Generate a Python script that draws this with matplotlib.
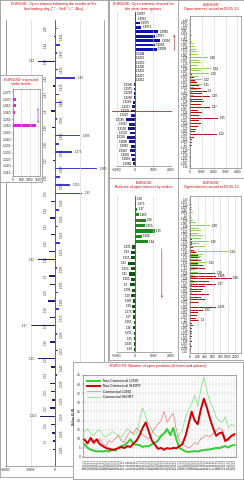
# plot.py - EURUSD open interest dashboard (options + COT)
import matplotlib
matplotlib.use("Agg")
import matplotlib.pyplot as plt

plt.rcParams['font.family'] = ['Liberation Sans', 'DejaVu Sans']

# ================= DATA =================
# big panel: open interest after the last trading day (- sell, + buy)
BIG_STRIKES = [1.45, 1.445, 1.44, 1.435, 1.43, 1.425, 1.42, 1.415, 1.41, 1.405,
               1.40, 1.395, 1.39, 1.385, 1.38, 1.375, 1.37, 1.365, 1.36, 1.355,
               1.35, 1.345, 1.34, 1.335, 1.33, 1.325, 1.32, 1.315, 1.31, 1.305,
               1.30, 1.295, 1.29, 1.285, 1.28, 1.275, 1.27, 1.265, 1.26, 1.255,
               1.25, 1.245, 1.24, 1.235, 1.23, 1.225, 1.22, 1.215, 1.21, 1.205,
               1.20, 1.195]
BIG_OI = [80, -60, 200, 90, -700, 120, 800, -100, 150, 300,
          -150, 100, -120, 1000, 150, 700, -100, 1700, 200, 600,
          1100, -150, 150, -200, 120, -180, 200, -250, -700, 100,
          -250, -200, 120, -300, 150, -200, -1000, 100, -200, 120,
          -700, -150, 100, -200, -150, -120, -200, -600, -150, -120,
          -100, -80]

# inset: expected strike levels
INSET_STRIKES = [1.375, 1.37, 1.365, 1.36, 1.355, 1.35, 1.345, 1.34, 1.335,
                 1.33, 1.325, 1.32, 1.315]
INSET_OI = [0, 150, 200, 120, 0, 1350, 0, 0, 0, 0, 0, 0, 0]

# top middle: open interest revised for short-term options
P2_LABELS = ["1.3997", "1.3991", "1.3975", "1.3973", "1.3960", "1.3957",
             "1.3950", "1.3934", "1.3909", "1.3448", "1.3470", "1.3450",
             "1.3445", "1.3432", "1.3427", "1.3412",
             "1.3390", "1.3375", "1.3299", "1.3290", "1.3248", "1.3227",
             "1.3202", "1.3200", "1.3185", "1.3167", "1.3150", "1.3125",
             "1.3110", "1.3090", "1.3065", "1.3047", "1.3020", "1.3000",
             "1.2980"]
P2_OI = [30, 80, 250, 350, 1300, 1100, 1400, 1100, 1200, 0, 0, 0, 0, 0, 0, 0,
         -30, -50, -80, -60, -100, -150, -200, -250, -500, -350, -400, -300,
         -450, -350, -250, -300, -200, -150, -100]
P2_PRICE = "1.3202"

# top right: open interest, actual
P3_STRIKES = [1.43, 1.425, 1.42, 1.415, 1.41, 1.405, 1.40, 1.395, 1.39, 1.385,
              1.38, 1.375, 1.37, 1.365, 1.36, 1.355, 1.35, 1.345, 1.34, 1.335,
              1.33, 1.325, 1.32, 1.315, 1.31, 1.305, 1.30, 1.295, 1.29, 1.285,
              1.28, 1.275, 1.27, 1.265, 1.26, 1.255, 1.25, 1.245, 1.24, 1.235,
              1.23, 1.225, 1.22, 1.215, 1.21, 1.205, 1.20, 1.195, 1.19, 1.185,
              1.18, 1.175, 1.17, 1.165, 1.16]
P3_CALLS = [50, 0, 80, 0, 60, 100, 150, 100, 200, 300,
            400, 500, 600, 700, 1500, 800, 900, 700, 1800, 900,
            1600, 700, 1000, 500, 1000, 300, 600, 200, 300, 100,
            200, 50, 100, 40, 30, 20, 30, 0, 20, 0,
            10, 0, 0, 0, 0, 0, 0, 0, 0, 0, 0, 0, 0, 0, 0]
P3_PUTS = [0, 0, 0, 0, 0, 0, 0, 0, 0, 0,
           0, 0, 0, 20, 30, 40, 50, 60, 80, 100,
           200, 300, 400, 600, 800, 900, 1400, 1000, 1700, 1100,
           1200, 900, 1700, 700, 1000, 800, 2400, 800, 900, 700,
           500, 400, 2300, 300, 200, 150, 200, 100, 80, 60,
           100, 50, 80, 40, 60]
P3_MARKED = [1.36, 1.34, 1.33, 1.32, 1.31, 1.30, 1.29, 1.27, 1.25, 1.22]

# middle: balance of open interest by strikes
P4_LABELS = ["1.38", "1.375", "1.37", "1.365", "1.36", "1.355", "1.35", "1.345",
             "1.34", "1.335", "1.33", "1.325", "1.32", "1.315", "1.31", "1.305",
             "1.3", "1.295", "1.29", "1.285", "1.28", "1.275", "1.27", "1.265",
             "1.26", "1.255", "1.25", "1.245", "1.24"]
P4_OI = [20, 60, 120, 200, 600, 550, 1100, 380, 700,
         -150, -250, -200, -400, -250, -350, -200, -300, -150, -200,
         -100, -150, -100, -120, -80, -100, -60, -80, -50, -40]

# middle right: open interest, actual
P5_STRIKES = [1.43, 1.425, 1.42, 1.415, 1.41, 1.405, 1.40, 1.395, 1.39, 1.385,
              1.38, 1.375, 1.37, 1.365, 1.36, 1.355, 1.35, 1.345, 1.34, 1.335,
              1.33, 1.325, 1.32, 1.315, 1.31, 1.305, 1.30, 1.295, 1.29, 1.285,
              1.28, 1.275, 1.27, 1.265, 1.26, 1.255, 1.25, 1.245, 1.24, 1.235,
              1.23, 1.225, 1.22, 1.215, 1.21, 1.205, 1.20, 1.195, 1.19, 1.185,
              1.18, 1.175, 1.17, 1.165, 1.16, 1.155, 1.15, 1.145, 1.14]
P5_CALLS = [20, 30, 50, 40, 60, 80, 100, 60, 90, 150,
            540, 250, 300, 200, 350, 300, 500, 250, 400, 300,
            1020, 350, 300, 250, 450, 200, 250, 150, 200, 100,
            150, 80, 100, 50, 40, 30, 40, 20, 30, 10,
            20, 10, 10, 0, 0, 0, 0, 0, 0, 0,
            0, 0, 0, 0, 0, 0, 0, 0, 0]
P5_PUTS = [0, 0, 0, 0, 0, 0, 0, 0, 0, 0,
           0, 0, 20, 30, 30, 40, 50, 60, 80, 100,
           150, 200, 250, 300, 200, 350, 400, 450, 660, 700,
           1100, 500, 700, 400, 350, 300, 500, 300, 400, 250,
           450, 700, 340, 200, 180, 150, 250, 60, 80, 50,
           60, 40, 50, 30, 40, 30, 40, 20, 30]
P5_MARKED = [1.38, 1.35, 1.33, 1.31, 1.29, 1.285, 1.28, 1.27, 1.225, 1.22, 1.20]

# bottom: EURO FX open positions (COT), billion EUR
COT_DATES = ["03.05.11", "17.05.11", "31.05.11", "14.06.11", "28.06.11", "12.07.11",
             "26.07.11", "09.08.11", "23.08.11", "06.09.11", "20.09.11", "04.10.11",
             "18.10.11", "01.11.11", "15.11.11", "29.11.11", "13.12.11", "27.12.11",
             "10.01.12", "24.01.12", "07.02.12", "21.02.12", "06.03.12", "20.03.12",
             "03.04.12", "17.04.12", "01.05.12", "15.05.12", "29.05.12", "12.06.12",
             "26.06.12", "10.07.12", "24.07.12", "07.08.12", "21.08.12", "04.09.12",
             "18.09.12", "02.10.12", "16.10.12", "30.10.12", "13.11.12", "27.11.12",
             "11.12.12", "25.12.12", "08.01.13", "22.01.13", "05.02.13", "19.02.13",
             "05.03.13", "19.03.13"]
NC_LONG = [7, 5, 4, 3.5, 3, 3.2, 3, 3.5, 3, 4, 3.5, 5, 5.9, 6.5, 7.8, 9.7, 7,
           6.8, 6.5, 5.5, 6, 5.9, 7, 7.8, 9, 11.6, 13, 15.4, 12, 16, 9.7, 5, 4,
           3, 2.8, 3, 3.2, 3, 3.5, 3.8, 4, 4.2, 4.5, 5, 4.8, 5.5, 6, 5.2, 6.3, 6.5]
NC_SHORT = [9.5, 7.5, 10.5, 8, 9.7, 7, 5.9, 5, 4.5, 4, 4.2, 4.8, 5.5, 4.9, 6,
            5.5, 7.5, 9, 12, 16, 19, 14, 9, 6.8, 4.5, 5, 4, 4.9, 4.5, 5, 4.8,
            5.9, 7, 11.6, 18, 24.9, 20, 18, 26, 32, 27, 21, 16, 11.6, 13, 13.5,
            8.7, 10, 11.6, 12.5]
COM_LONG = [6, 8, 9, 7, 8, 10, 7, 6, 9, 8, 10, 12, 9, 8, 12, 14, 13, 16, 14,
            12, 11, 10, 13, 16, 18, 20, 25, 19, 22, 24, 15, 9, 7, 6, 5, 6, 8, 7,
            10, 11, 12, 11, 13, 14, 16, 15, 10, 9, 12, 11]
COM_SHORT = [14, 15.5, 13, 12, 14, 15, 12, 11, 12, 14, 13, 12, 11, 13, 15.4, 14,
             12, 13, 20, 27, 22, 18, 15, 12, 11, 12, 13, 14, 13, 12, 11, 12, 15,
             22, 26, 29, 34, 28, 37, 44, 36, 30, 27, 22, 20, 19, 22, 16, 18, 17]

# ================= STYLE =================
W, H = 244, 480
RED = '#cc0000'
GRID = '#cfcfcf'
FS = 2.4

fig = plt.figure(figsize=(W / 100, H / 100), dpi=100)


def px_axes(x0, y0, x1, y1, z=1):
    """axes placed by pixel box (top-left origin)"""
    return fig.add_axes([x0 / W, 1 - y1 / H, (x1 - x0) / W, (y1 - y0) / H], zorder=z)


def frame(x0, y0, x1, y1, z, title):
    a = px_axes(x0, y0, x1, y1, z)
    a.set_xticks([])
    a.set_yticks([])
    a.set_facecolor('white')
    for s in a.spines.values():
        s.set_color('#9a9a9a')
        s.set_linewidth(0.6)
    a.text(0.5, 1 - 2.5 / (y1 - y0), title, transform=a.transAxes, ha='center',
           va='top', color=RED, fontsize=2.7, linespacing=1.1)
    return a


def style(ax):
    ax.tick_params(labelsize=FS, length=1, width=0.3, pad=0.6, colors='#222222')
    for s in ax.spines.values():
        s.set_linewidth(0.4)
        s.set_color('#666666')
    ax.set_facecolor('white')


def fmt(v):
    return f"{v:g}"


# ================= BIG PANEL =================
frame(0, 0, 108, 477, 1, 'EURUSD:  Open interest following the results of the\n'
      'last trading day ("-" - Sell, "+" - Buy)')
ax = px_axes(6, 20, 104, 466, 2)
style(ax)
cols = ['#3c3cc8' if v > 0 else '#1c1c70' for v in BIG_OI]
ax.barh(BIG_STRIKES, BIG_OI, height=0.0009, color=cols)
ax.axvline(0, color='#333333', lw=0.5)
for i, (s, v) in enumerate(zip(BIG_STRIKES, BIG_OI)):
    ax.text(-380 if i % 2 == 0 else 260, s, fmt(s), rotation=90, fontsize=2.2,
            ha='center', va='center', color='#333333')
    if abs(v) >= 600:
        ax.text(v + (120 if v > 0 else -120), s, fmt(s), fontsize=2.2,
                ha='left' if v > 0 else 'right', va='center', color='#333333')
ax.set_xlim(-2000, 2000)
ax.set_ylim(1.185, 1.455)
ax.set_yticks([])
ax.set_xticks([-2000, -1000, 0, 1000, 2000])
ax.grid(axis='x', color=GRID, lw=0.4)
ax.spines['top'].set_visible(False)

# ================= INSET =================
frame(0, 75, 42, 182, 5, 'EUR/USD: expected\nstrike levels')
ax = px_axes(13, 89, 40, 176, 6)
style(ax)
ax.barh(INSET_STRIKES, INSET_OI, height=0.0022, color='#dd22dd')
ax.annotate('', xy=(1480, INSET_STRIKES[2]), xytext=(1480, INSET_STRIKES[5]),
            arrowprops=dict(arrowstyle='<->', color='#dd22dd', lw=0.4,
                            mutation_scale=2), annotation_clip=False)
ax.set_ylim(1.3125, 1.3775)
ax.set_yticks(INSET_STRIKES)
ax.set_yticklabels([f"{s:.3f}" for s in INSET_STRIKES])
ax.set_xlim(0, 1600)
ax.set_xticks([0, 500, 1000, 1500])
ax.grid(axis='x', color=GRID, lw=0.4)


def bal_panel(box, labels, values, pos_col, neg_col):
    ax = px_axes(*box, 2)
    style(ax)
    n = len(labels)
    rows = list(range(n))
    cols = [pos_col if v >= 0 else neg_col for v in values]
    ax.barh(rows, values, height=0.6, color=cols)
    for r, lab, v in zip(rows, labels, values):
        if v >= 0:
            ax.text(v + 70, r, lab, fontsize=2.2, ha='left', va='center')
        else:
            ax.text(v - 70, r, lab, fontsize=2.2, ha='right', va='center')
    ax.axvline(0, color='#333333', lw=0.5)
    ax.set_ylim(n - 0.5, -0.5)
    ax.set_yticks([])
    ax.set_xlim(-1000, 2000)
    ax.set_xticks([-1000, 0, 1000, 2000])
    ax.grid(axis='x', color=GRID, lw=0.4)
    ax.spines['left'].set_visible(False)
    ax.spines['top'].set_visible(False)
    ax.spines['right'].set_visible(False)
    return ax


def oi_panel(box, strikes, calls, puts, marked, xmax, xticks):
    ax = px_axes(*box, 2)
    style(ax)
    ys_c = [s + 0.0011 for s in strikes]
    ys_p = [s - 0.0011 for s in strikes]
    ax.barh(ys_c, calls, height=0.0018, color='#8fd14f')
    ax.barh(ys_p, puts, height=0.0018, color='#b01010')
    for s, c, p in zip(strikes, calls, puts):
        if s in marked:
            ax.text(max(c, p) + xmax * 0.03, s, fmt(s), fontsize=2.2, va='center')
    ax.set_ylim(strikes[-1] - 0.003, strikes[0] + 0.0075)
    ax.set_yticks(strikes)
    ax.set_yticklabels([fmt(s) for s in strikes], fontsize=2)
    ax.set_xlim(0, xmax)
    ax.set_xticks(xticks)
    ax.grid(axis='x', color=GRID, lw=0.4)
    return ax


# ================= TOP MIDDLE =================
frame(109, 0, 178, 178, 1, 'EUR/USD: Open interest, revised for\nthe short-term options')
ax = bal_panel((117, 12, 171, 166), P2_LABELS, P2_OI, '#1010b0', '#1a1a80')
ax.axhline(P2_LABELS.index(P2_PRICE), color='#990000', lw=0.5, xmin=-0.1, clip_on=False)
ax.annotate('', xy=(1.06, 0.87), xytext=(1.06, 0.73), xycoords='axes fraction',
            arrowprops=dict(arrowstyle='->', color='#aa2222', lw=0.4, mutation_scale=2.5),
            annotation_clip=False)

# ================= TOP RIGHT =================
frame(178, 0, 244, 178, 1, 'EUR/USD\nOpen interest, actual at 03.05.13')
oi_panel((190, 16, 241, 168), P3_STRIKES, P3_CALLS, P3_PUTS, P3_MARKED,
         4300, [0, 1000, 2000, 3000, 4000])

# ================= MIDDLE =================
frame(109, 178, 178, 360, 1, 'EUR/USD\nBalance of open interest by strikes')
ax = bal_panel((117, 196, 171, 352), P4_LABELS, P4_OI, '#1e8a1e', '#0b5a0b')
ax.annotate('', xy=(0.83, 0.33), xytext=(0.83, 0.68), xycoords='axes fraction',
            arrowprops=dict(arrowstyle='->', color='#aa2222', lw=0.4, mutation_scale=2.5),
            annotation_clip=False)

# ================= MIDDLE RIGHT =================
frame(178, 178, 244, 360, 1, 'EUR/USD\nOpen interest, actual at 03.05.13')
oi_panel((190, 196, 241, 353), P5_STRIKES, P5_CALLS, P5_PUTS, P5_MARKED,
         1350, [0, 200, 400, 600, 800, 1000, 1200])

# ================= BOTTOM (COT) =================
frame(73, 362, 243, 479, 5, 'EURO FX: Number of open positions (futures and options)')
ax = px_axes(83, 375, 236, 457, 6)
style(ax)
x = list(range(len(COT_DATES)))
ax.plot(x, COM_SHORT, color='#77dd77', lw=0.5, label='Commercial SHORT', zorder=2)
ax.plot(x, COM_LONG, color='#e07a7a', lw=0.5, label='Commercial LONG', zorder=2)
ax.plot(x, NC_LONG, color='#33cc33', lw=1.4, label='Non-Commercial LONG', zorder=3)
ax.plot(x, NC_SHORT, color='#cc0000', lw=1.4, label='Non-Commercial SHORT', zorder=3)
h, l = ax.get_legend_handles_labels()
order = [2, 3, 1, 0]
ax.legend([h[i] for i in order], [l[i] for i in order], loc='upper left',
          fontsize=2.4, frameon=False, handlelength=4, borderaxespad=0.8,
          labelspacing=0.4)
ax.set_xlim(-0.5, len(x) - 0.5)
ax.set_ylim(0, 45)
ax.set_yticks(range(0, 46, 5))
ax.set_xticks(x)
ax.set_xticklabels(COT_DATES, rotation=90, fontsize=1.8)
ax.set_ylabel('Billion EUR', fontsize=2.4, labelpad=1)
ax.grid(color=GRID, lw=0.3)

fig.savefig('out.png', dpi=100)
print("saved out.png")
